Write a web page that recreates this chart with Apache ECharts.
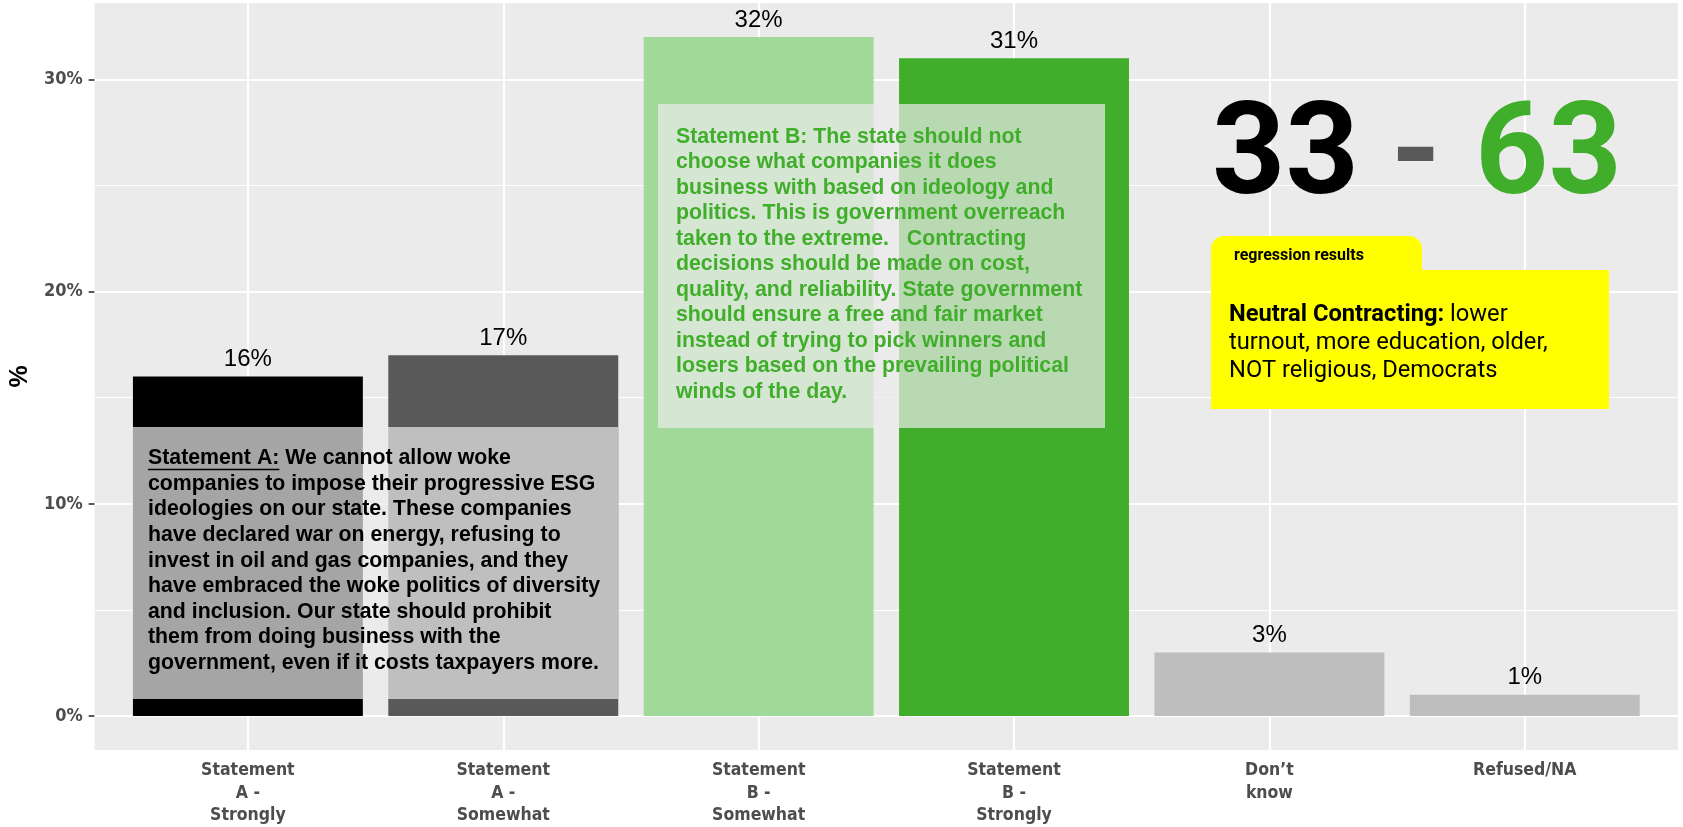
<!DOCTYPE html>
<html><head><meta charset="utf-8">
<script src="https://cdn.jsdelivr.net/npm/echarts@6/dist/echarts.min.js"></script>
<style>html,body{margin:0;padding:0;background:#fff;}#chart{width:1683px;height:827px;}</style>
</head><body><div id="chart"></div>
<script>
// ---- data ----
const categories = ['Statement\nA -\nStrongly', 'Statement\nA -\nSomewhat', 'Statement\nB -\nSomewhat', 'Statement\nB -\nStrongly', 'Don\u2019t\nknow', 'Refused/NA'];
const values = [16, 17, 32, 31, 3, 1];
const yTicks = [0, 10, 20, 30];
const yMinorTicks = [5, 15, 25];
const scoreA = '33';
const scoreB = '63';
const statementAHead = 'Statement A:';
const statementALines = [
  ' We cannot allow woke',
  'companies to impose their progressive ESG',
  'ideologies on our state. These companies',
  'have declared war on energy, refusing to',
  'invest in oil and gas companies, and they',
  'have embraced the woke politics of diversity',
  'and inclusion. Our state should prohibit',
  'them from doing business with the',
  'government, even if it costs taxpayers more.'
];
const statementBLines = [
  'Statement B: The state should not',
  'choose what companies it does',
  'business with based on ideology and',
  'politics. This is government overreach',
  'taken to the extreme.   Contracting',
  'decisions should be made on cost,',
  'quality, and reliability. State government',
  'should ensure a free and fair market',
  'instead of trying to pick winners and',
  'losers based on the prevailing political',
  'winds of the day.'
];
const regressionTitle = 'regression results';
const regressionHead = 'Neutral Contracting:';
const regressionLines = [' lower', 'turnout, more education, older,', 'NOT religious, Democrats'];

// ---- styles ----
const barColors = ['#000000', '#595959', '#a1d99b', '#40ae2a', '#bebebe', '#bebebe'];
const GREEN = '#40ae2a';
const AXIS_FONT = '"DejaVu Sans Condensed", "DejaVu Sans", sans-serif';

const chart = echarts.init(document.getElementById('chart'), null, {renderer: 'canvas'});
const maxV = Math.max(...values);
const pad = maxV * 0.05;

const gridLines = [];
yTicks.forEach(v => gridLines.push({yAxis: v, lineStyle: {width: 2.2}}));
yMinorTicks.forEach(v => gridLines.push({yAxis: v, lineStyle: {width: 1.1}}));
categories.forEach((c, i) => gridLines.push({xAxis: i + 1, lineStyle: {width: 2.2}}));

const option = {
  animation: false,
  grid: {left: 94, right: 5, top: 3, bottom: 76, show: true, backgroundColor: '#ebebeb', borderWidth: 0, containLabel: false},
  xAxis: {
    type: 'value', min: 0.4, max: categories.length + 0.6,
    axisLine: {show: false},
    splitLine: {show: false},
    axisTick: {show: true, length: 6, lineStyle: {color: '#333333', width: 1.6}, customValues: categories.map((c, i) => i + 1)},
    axisLabel: {
      customValues: categories.map((c, i) => i + 1),
      formatter: v => categories[Math.round(v) - 1] || '',
      color: '#4d4d4d', fontFamily: AXIS_FONT, fontWeight: 'bold', fontSize: 17.5, lineHeight: 22.5, margin: 9.5
    }
  },
  yAxis: {
    type: 'value', min: -pad, max: maxV + pad,
    name: '%', nameLocation: 'middle', nameRotate: 90, nameGap: 59,
    nameTextStyle: {color: '#000', fontWeight: 'bold', fontSize: 25, fontFamily: '"Liberation Sans", Arial, sans-serif'},
    axisLine: {show: false},
    splitLine: {show: false},
    axisTick: {show: true, length: 6, lineStyle: {color: '#333333', width: 1.6}, customValues: yTicks},
    axisLabel: {customValues: yTicks, formatter: v => v + '%', color: '#4d4d4d', fontFamily: AXIS_FONT, fontWeight: 'bold', fontSize: 18, margin: 12}
  },
  series: [{
    type: 'bar',
    barWidth: (1683 - 94 - 5) / (categories.length + 0.2) * 0.9,
    data: values.map((v, i) => ({value: [i + 1, v], itemStyle: {color: barColors[i]}})),
    label: {show: true, position: 'top', distance: 5, formatter: p => p.value[1] + '%', color: '#000', fontSize: 24, fontFamily: '"Liberation Sans", Arial, sans-serif'},
    silent: true,
    markLine: {
      z: 1, silent: true, symbol: ['none', 'none'], label: {show: false},
      lineStyle: {color: '#ffffff', type: 'solid', opacity: 1},
      emphasis: {disabled: true},
      data: gridLines
    }
  }]
};
chart.setOption(option);

// ---- annotations ----
const fontA = 'bold 21.3px "Liberation Sans", Arial, sans-serif';
const ctx = document.createElement('canvas').getContext('2d');
ctx.font = fontA;
const headW = ctx.measureText(statementAHead).width;

const BOX = 'rgba(235,235,235,0.70)';
const graphics = [
  {type: 'rect', z: 100, shape: {x: 132, y: 427, width: 486, height: 272}, style: {fill: BOX}},
  {type: 'text', z: 101, x: 148, y: 445.5, style: {
    text: '{h|' + statementAHead + '}' + statementALines.join('\n'),
    font: fontA, fill: '#000', lineHeight: 25.6, align: 'left', verticalAlign: 'top', textAlign: 'left', textVerticalAlign: 'top',
    rich: {h: {font: fontA, fill: '#000', lineHeight: 25.6}}
  }},
  {type: 'line', z: 101, shape: {x1: 148, y1: 469.5, x2: 148 + headW, y2: 469.5}, style: {stroke: '#000', lineWidth: 1.5}},
  {type: 'rect', z: 100, shape: {x: 658, y: 104, width: 447, height: 324}, style: {fill: BOX}},
  {type: 'text', z: 101, x: 676, y: 123.9, style: {
    text: statementBLines.join('\n'), font: fontA, fill: GREEN, lineHeight: 25.5,
    align: 'left', verticalAlign: 'top', textAlign: 'left', textVerticalAlign: 'top'
  }},
  {type: 'text', z: 101, x: 1212, y: 161, style: {text: scoreA, font: 'bold 128px Roboto', fill: '#000', align: 'left', verticalAlign: 'middle', textAlign: 'left', textVerticalAlign: 'middle'}},
  {type: 'text', z: 101, x: 1416, y: 161, style: {text: '-', font: 'bold 128px Roboto', fill: '#595959', align: 'center', verticalAlign: 'middle', textAlign: 'center', textVerticalAlign: 'middle'}},
  {type: 'text', z: 101, x: 1475, y: 161, style: {text: scoreB, font: 'bold 128px Roboto', fill: GREEN, align: 'left', verticalAlign: 'middle', textAlign: 'left', textVerticalAlign: 'middle'}},
  {type: 'rect', z: 100, shape: {x: 1211, y: 236, width: 211, height: 44, r: [13, 13, 0, 0]}, style: {fill: '#ffff00'}},
  {type: 'rect', z: 100, shape: {x: 1211, y: 270, width: 398, height: 139}, style: {fill: '#ffff00'}},
  {type: 'text', z: 101, x: 1234, y: 256, style: {text: regressionTitle, font: 'bold 16px Roboto', fill: '#000', align: 'left', verticalAlign: 'middle', textAlign: 'left', textVerticalAlign: 'middle'}},
  {type: 'text', z: 101, x: 1229, y: 301, style: {
    text: '{b|' + regressionHead + '}' + regressionLines.join('\n'),
    font: '23.7px Roboto', fill: '#000', lineHeight: 28, align: 'left', verticalAlign: 'top', textAlign: 'left', textVerticalAlign: 'top',
    rich: {b: {font: 'bold 23.7px Roboto', fill: '#000', lineHeight: 28}}
  }}
];
chart.setOption({graphic: {elements: graphics}});
</script>
</body></html>
